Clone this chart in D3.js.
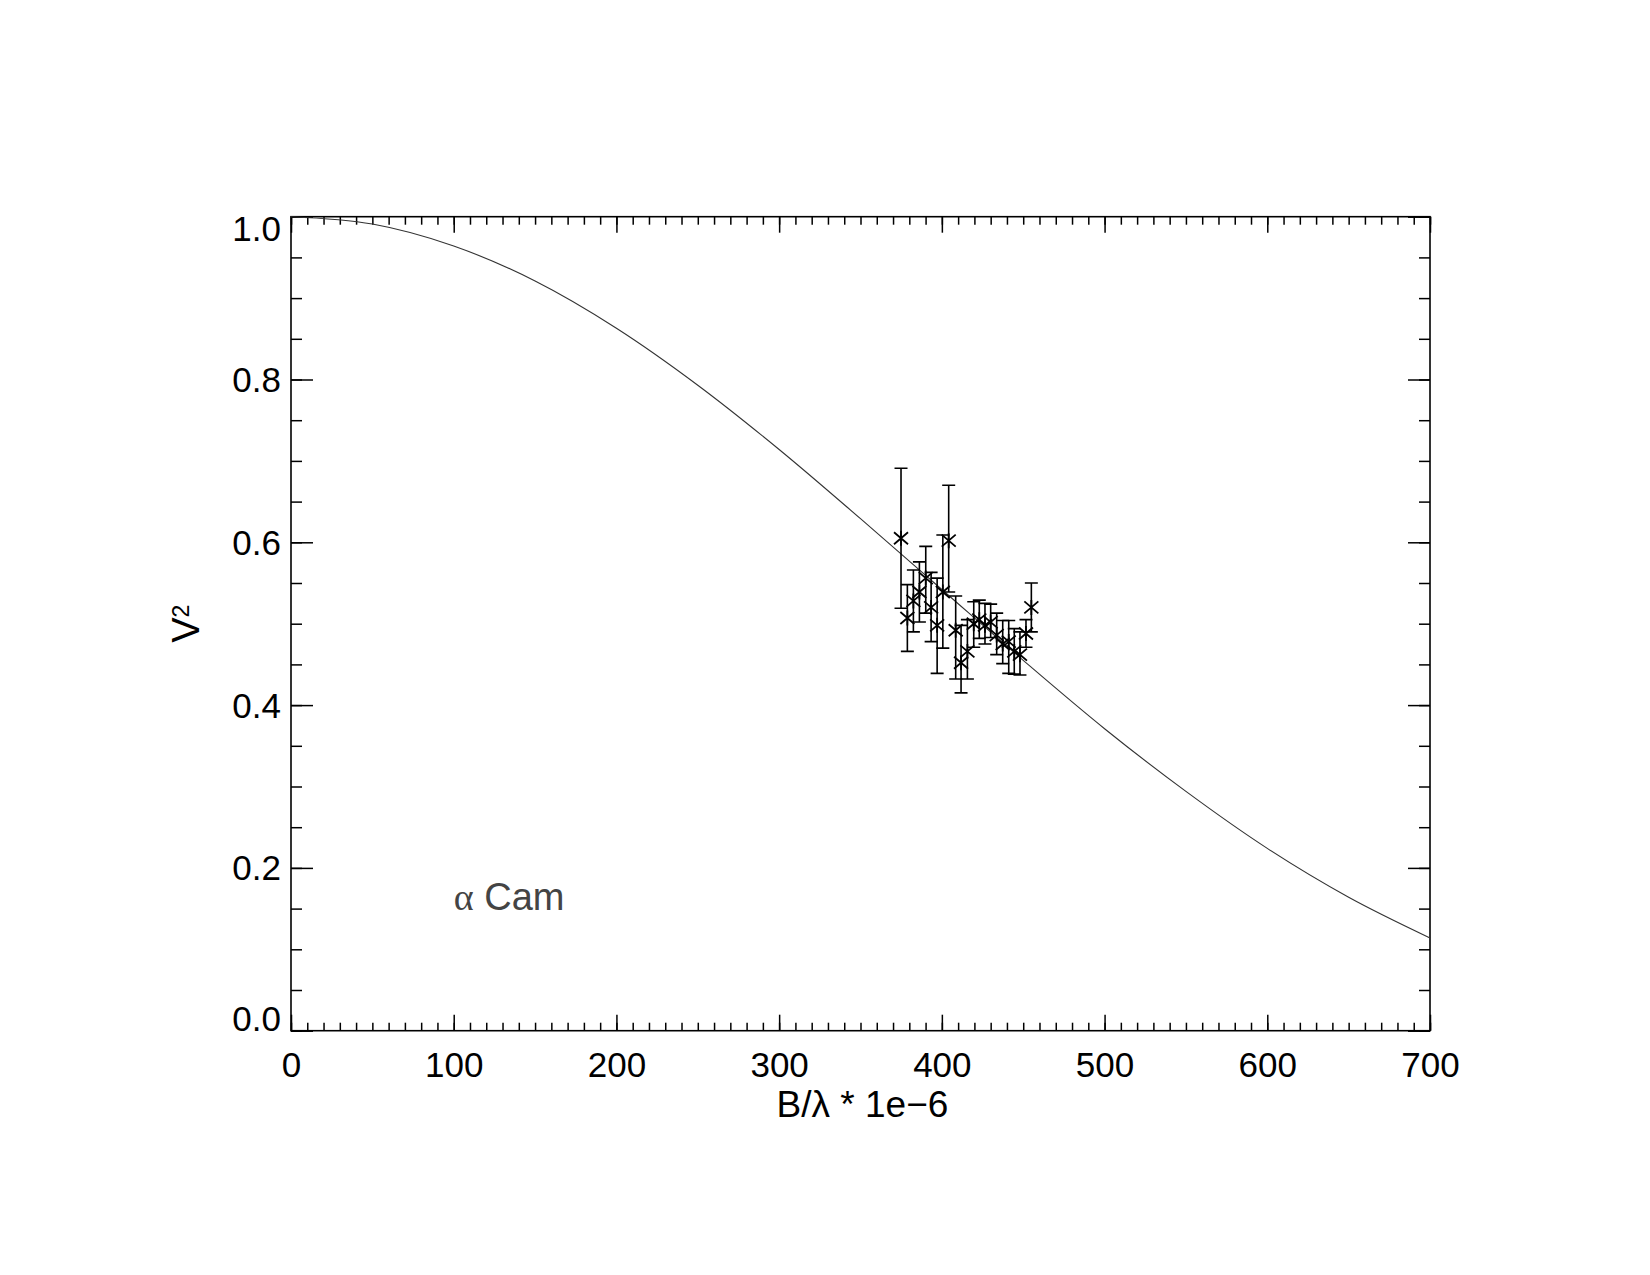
<!DOCTYPE html>
<html>
<head>
<meta charset="utf-8">
<script src="https://cdn.jsdelivr.net/npm/d3@7"></script>
<style>
  body { margin: 0; background: #fff; }
  text { font-family: "Liberation Sans", Arial, sans-serif; }
</style>
</head>
<body>
<script>
// V^2 vs baseline plot (alpha Cam)

const margin = {top: 216.7, left: 291, right: 220, bottom: 244.3};
const outerWidth = 1650;
const outerHeight = 1275;
const innerWidth = outerWidth - margin.left - margin.right;   // 1139
const innerHeight = outerHeight - margin.top - margin.bottom; // 814

// measured points
const baseline = [374.9, 378.8, 382.5, 386.2, 390.1, 393.4, 397.1, 400.6, 404.2, 408.5, 411.8, 415.7,
                  419.6, 423.0, 426.5, 430.0, 433.7, 437.4, 441.1, 444.5, 448.0, 451.7, 455.0];
const v2 = [0.605, 0.507, 0.528, 0.539, 0.556, 0.520, 0.498, 0.539, 0.602, 0.492, 0.452, 0.466,
            0.500, 0.505, 0.498, 0.502, 0.486, 0.475, 0.478, 0.466, 0.462, 0.488, 0.520];
const v2Top = [0.691, 0.548, 0.566, 0.576, 0.595, 0.563, 0.556, 0.609, 0.670, 0.534, 0.498, 0.505,
               0.527, 0.529, 0.525, 0.524, 0.513, 0.504, 0.504, 0.494, 0.490, 0.505, 0.550];
const v2Bottom = [0.519, 0.466, 0.490, 0.502, 0.513, 0.478, 0.439, 0.470, 0.539, 0.432, 0.415, 0.432,
                  0.471, 0.482, 0.475, 0.483, 0.462, 0.451, 0.439, 0.438, 0.437, 0.471, 0.490];

// model curve
const modelX = [0, 50, 100, 150, 200, 250, 300, 350, 400, 450, 500, 550, 600, 650, 700];
const modelY = [1.000, 0.991, 0.964, 0.921, 0.863, 0.793, 0.714, 0.629, 0.542, 0.455, 0.371, 0.294, 0.224, 0.164, 0.114];

const xMajor = [0, 100, 200, 300, 400, 500, 600, 700];
const yMajor = [0.0, 0.2, 0.4, 0.6, 0.8, 1.0];

const svg = d3.select("body").append("svg")
    .attr("width", outerWidth)
    .attr("height", outerHeight);

const g = svg.append("g")
    .attr("transform", "translate(" + margin.left + "," + margin.top + ")");

const x = d3.scaleLinear().domain([0, 700]).range([0, innerWidth]);
const y = d3.scaleLinear().domain([0, 1]).range([innerHeight, 0]);

function styleAxis(sel) {
  sel.attr("font-size", 35).attr("font-family", "Liberation Sans, Arial, sans-serif");
  sel.select(".domain").remove();
  sel.selectAll(".tick line").attr("stroke", "#000").attr("stroke-width", 1.5);
  sel.selectAll("text").attr("fill", "#000");
}
// ticks only, drop the empty label nodes
function ticksOnly(sel) {
  styleAxis(sel);
  sel.selectAll(".tick text").remove();
}

// x minor / major ticks, bottom and top
g.append("g").attr("transform", "translate(0," + innerHeight + ")")
  .call(d3.axisBottom(x).tickValues(d3.range(0, 701, 10)).tickSize(-8))
  .call(ticksOnly);
g.append("g").attr("transform", "translate(0," + innerHeight + ")")
  .call(d3.axisBottom(x).tickValues(xMajor).tickSize(-16).tickPadding(21).tickFormat(d3.format("d")))
  .call(styleAxis);
g.append("g")
  .call(d3.axisTop(x).tickValues(d3.range(0, 701, 10)).tickSize(-8))
  .call(ticksOnly);
g.append("g")
  .call(d3.axisTop(x).tickValues(xMajor).tickSize(-16))
  .call(ticksOnly);

// y minor / major ticks, left and right
g.append("g")
  .call(d3.axisLeft(y).tickValues(d3.range(0, 1.001, 0.05)).tickSize(-11))
  .call(ticksOnly);
const yLeft = g.append("g")
  .call(d3.axisLeft(y).tickValues(yMajor).tickSize(-22).tickPadding(10).tickFormat(d3.format(".1f")))
  .call(styleAxis);
yLeft.selectAll(".tick text")
  .attr("dy", d => d === 1 ? "0.68em" : (d === 0 ? "-0.02em" : "0.34em"));
g.append("g").attr("transform", "translate(" + innerWidth + ",0)")
  .call(d3.axisRight(y).tickValues(d3.range(0, 1.001, 0.05)).tickSize(-11))
  .call(ticksOnly);
g.append("g").attr("transform", "translate(" + innerWidth + ",0)")
  .call(d3.axisRight(y).tickValues(yMajor).tickSize(-22))
  .call(ticksOnly);

// frame
g.append("rect")
  .attr("x", 0).attr("y", 0)
  .attr("width", innerWidth).attr("height", innerHeight)
  .attr("fill", "none")
  .attr("stroke", "#000")
  .attr("stroke-width", 1.6);

// model curve
const line = d3.line()
  .x((d, i) => x(modelX[i]))
  .y(d => y(d))
  .curve(d3.curveMonotoneX);

g.append("path")
  .datum(modelY)
  .attr("d", line)
  .attr("fill", "none")
  .attr("stroke", "#333")
  .attr("stroke-width", 1.1);

// error bars
const pts = g.append("g").attr("stroke", "#000").attr("stroke-width", 1.6).attr("fill", "none");
const cap = 6.5;
pts.selectAll(".err")
  .data(baseline)
  .join("path")
  .attr("class", "err")
  .attr("d", (d, i) => {
    const px = x(d), t = y(v2Top[i]), b = y(v2Bottom[i]);
    return "M" + px + "," + t + "V" + b +
           "M" + (px - cap) + "," + t + "H" + (px + cap) +
           "M" + (px - cap) + "," + b + "H" + (px + cap);
  });

// asterisk symbols
const sx = 7, sy = 6;
pts.selectAll(".star")
  .data(baseline)
  .join("path")
  .attr("class", "star")
  .attr("stroke-width", 1.8)
  .attr("d", (d, i) => {
    const px = x(d), py = y(v2[i]);
    return "M" + px + "," + (py - 7.5) + "V" + (py + 7.5) +
           "M" + (px - sx) + "," + (py - sy) + "L" + (px + sx) + "," + (py + sy) +
           "M" + (px - sx) + "," + (py + sy) + "L" + (px + sx) + "," + (py - sy);
  });

// star label
const lab = g.append("text")
  .attr("x", x(100))
  .attr("y", y(0.148))
  .attr("fill", "#444")
  .attr("font-size", 38);
lab.append("tspan").attr("font-family", "Liberation Serif, serif").text("α");
lab.append("tspan").text(" Cam");

// axis titles
svg.append("text")
  .attr("x", margin.left + innerWidth / 2 + 2)
  .attr("y", 1117)
  .attr("text-anchor", "middle")
  .attr("font-size", 37)
  .text("B/λ * 1e−6");

const yt = svg.append("text")
  .attr("transform", "translate(199," + (margin.top + innerHeight / 2) + ") rotate(-90)")
  .attr("text-anchor", "middle")
  .attr("font-size", 38);
yt.append("tspan").text("V");
yt.append("tspan").attr("dy", "-0.45em").attr("font-size", 23).text("2");
</script>
</body>
</html>
